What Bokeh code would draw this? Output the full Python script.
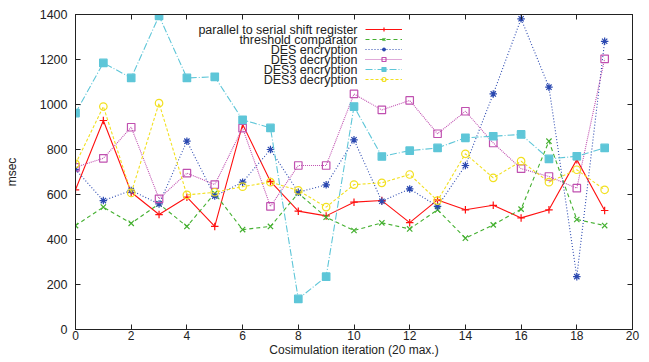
from bokeh.plotting import figure
from bokeh.models import Range1d, LinearAxis, FixedTicker, Legend, LegendItem, Label
from bokeh.core.properties import value
from bokeh.embed import file_html
from bokeh.resources import INLINE

iterations = list(range(20))
x_ticks = [0, 2, 4, 6, 8, 10, 12, 14, 16, 18, 20]
y_ticks = [0, 200, 400, 600, 800, 1000, 1200, 1400]

series_names = [
    "parallel to serial shift register",
    "threshold comparator",
    "DES encryption",
    "DES decryption",
    "DES3 encryption",
    "DES3 decryption",
]
shift_register = [621, 929, 610, 511, 588, 458, 912, 658, 526, 505, 566, 573, 475, 576, 532, 552, 496, 532, 755, 529]
threshold_comparator = [462, 544, 472, 558, 458, 605, 444, 458, 606, 499, 440, 474, 447, 532, 406, 465, 535, 837, 489, 462]
des_encryption = [711, 573, 618, 558, 837, 593, 655, 800, 610, 643, 843, 570, 625, 547, 729, 1047, 1381, 1077, 235, 1281]
des_decryption = [721, 761, 899, 581, 695, 644, 895, 547, 729, 729, 1047, 976, 1018, 870, 970, 829, 715, 680, 628, 1203]
des3_encryption = [962, 1185, 1118, 1394, 1118, 1123, 932, 896, 136, 235, 991, 769, 795, 807, 852, 859, 867, 758, 770, 807]
des3_decryption = [736, 991, 607, 1006, 598, 610, 635, 655, 618, 544, 644, 652, 689, 573, 781, 674, 748, 655, 710, 621]

FONT = "Liberation Sans"
TXT = "#222222"

styles = [
    dict(color="#ff1010", dash="solid", marker="cross", fill=False),
    dict(color="#44b030", dash="4 3", marker="x", fill=False),
    dict(color="#2a48b0", dash="1 2", marker="asterisk", fill=False),
    dict(color="#c050b0", dash="1 1", marker="square", fill=False),
    dict(color="#5ec6d8", dash="7 2 1 2", marker="square", fill=True),
    dict(color="#f2e020", dash="3 2", marker="circle", fill=False),
]
values_list = [shift_register, threshold_comparator, des_encryption,
               des_decryption, des3_encryption, des3_decryption]

p = figure(width=649, height=362, output_backend="svg", toolbar_location=None,
           x_range=Range1d(0, 20), y_range=Range1d(0, 1400),
           min_border_left=75, min_border_right=17, min_border_top=14, min_border_bottom=33)
p.background_fill_color = "white"
p.border_fill_color = "white"
p.outline_line_color = "#222222"
p.outline_line_width = 1
p.xgrid.visible = False
p.ygrid.visible = False

for ax, ticks in ((p.xaxis[0], x_ticks), (p.yaxis[0], y_ticks)):
    ax.ticker = FixedTicker(ticks=ticks)
    ax.major_tick_in = 5
    ax.major_tick_out = 0
    ax.minor_tick_line_color = None
    ax.axis_line_color = "#222222"
    ax.major_tick_line_color = "#222222"
    ax.major_label_text_font = FONT
    ax.major_label_text_font_size = "12.5px"
    ax.major_label_text_color = TXT
    ax.axis_label_text_font = FONT
    ax.axis_label_text_font_size = "12px"
    ax.axis_label_text_font_style = "normal"
    ax.axis_label_text_color = TXT

p.xaxis[0].major_label_text_font_size = "12px"
p.xaxis[0].axis_label = "Cosimulation iteration (20 max.)"
p.xaxis[0].major_label_standoff = 1
p.xaxis[0].axis_label_standoff = 0
p.yaxis[0].axis_label = "msec"
p.yaxis[0].major_label_standoff = 8
p.yaxis[0].axis_label_standoff = 18

for loc, ticks in (("right", y_ticks), ("above", x_ticks)):
    ax = LinearAxis(ticker=FixedTicker(ticks=ticks), major_tick_in=5, major_tick_out=0,
                    minor_tick_line_color=None, axis_line_color="#222222",
                    major_tick_line_color="#222222", major_label_text_font_size="1px",
                    major_label_text_color=None, major_label_standoff=0)
    p.add_layout(ax, loc)

items = []
for name, vals, st in zip(series_names, values_list, styles):
    lr = p.line(iterations, vals, line_color=st["color"], line_width=1.1, line_dash=st["dash"])
    sr = p.scatter(iterations, vals, marker=st["marker"], size=7.5,
                   line_color=st["color"], line_width=1.2,
                   fill_color=st["color"] if st["fill"] else None)
    items.append(LegendItem(label=value(" "), renderers=[lr, sr]))

legend = Legend(items=items, location=(290, 245), glyph_width=37, glyph_height=10,
                label_height=10, label_width=0, label_standoff=0, padding=0, spacing=0,
                margin=0, border_line_color=None, background_fill_alpha=0,
                label_text_font_size="6px", label_text_color=None)
p.add_layout(legend, "center")

for i, name in enumerate(series_names):
    p.add_layout(Label(x=282, y=300 - 10 * i, x_units="screen", y_units="screen", text=name,
                       text_align="right", text_baseline="middle", text_font=FONT,
                       text_font_size="12.5px", text_color=TXT))

open("out.html", "w").write(file_html(p, INLINE))
